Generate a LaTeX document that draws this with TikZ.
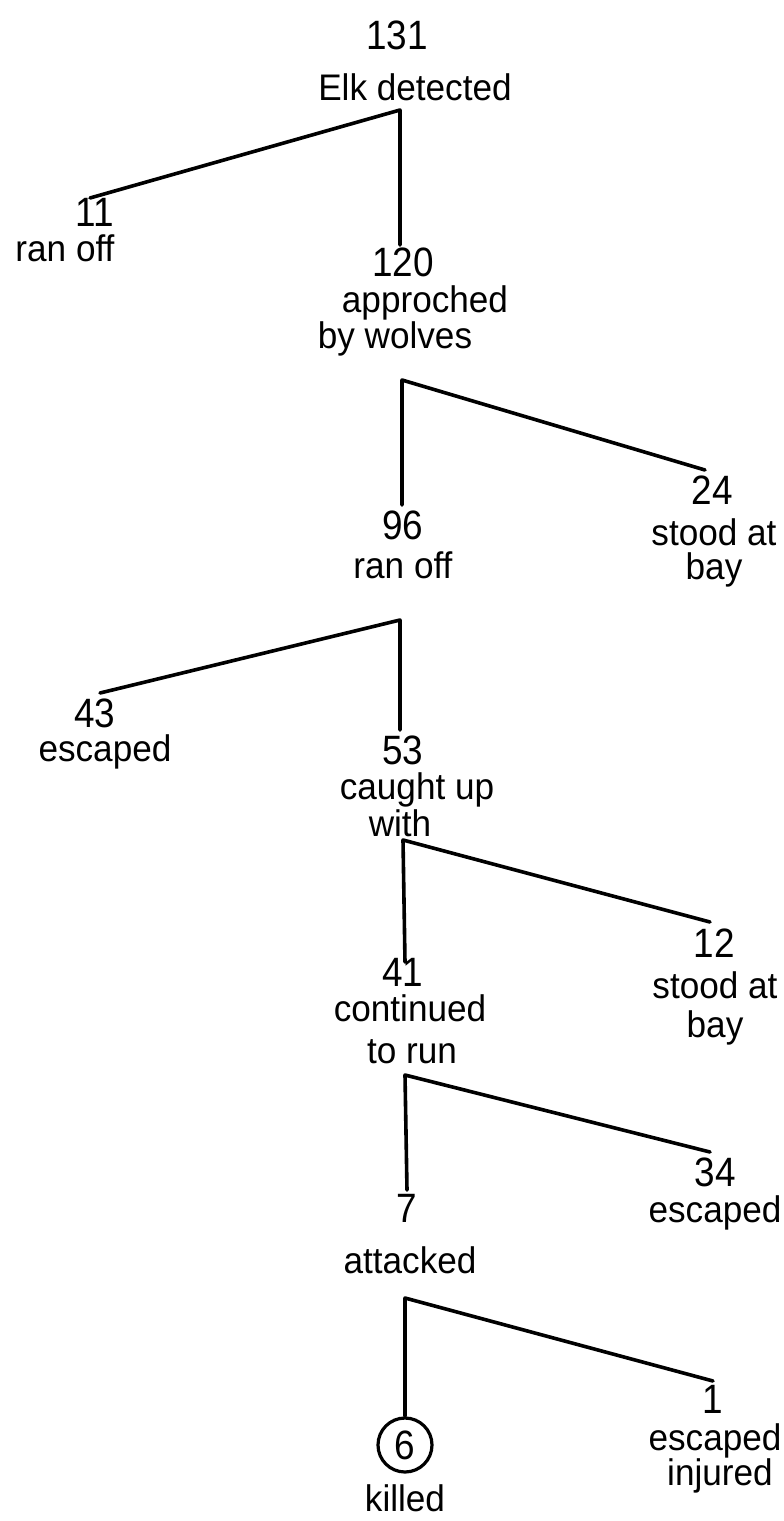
\documentclass[tikz,border=0pt]{standalone}
\usepackage{fontspec}
\setmainfont{Liberation Sans}
\newfontfamily\numfont{Liberation Sans}[FakeStretch=0.9]
\newfontfamily\lblfont{Liberation Sans}[FakeStretch=0.95]
\begin{document}
\begin{tikzpicture}[x=0.5pt,y=-0.5pt]
\tikzset{
 num/.style={font=\numfont\fontsize{20.5}{22}\selectfont, inner sep=0pt},
 lbl/.style={font=\lblfont\fontsize{18.5}{20}\selectfont, inner sep=0pt},
 branch/.style={line width=1.8pt, line cap=round, line join=round},
 killring/.style={draw, line width=1.6pt, circle, minimum size=27pt, inner sep=0pt},
}
\useasboundingbox (0,0) rectangle (783,1521);
% level 0
\node[num] (n131) at (397,35) {131};
\node[lbl] (lElk) at (415,87) {Elk detected};
% level 1
\node[num] (n11) at (95,212) {11};
\node[lbl] (lRan1) at (65,248) {ran off};
\node[num] (n120) at (403,262) {120};
\node[lbl] (lAppr) at (425,303) {approched};
\node[lbl] (lWolv) at (395,339) {by wolves};
% level 2
\node[num] (n96) at (403,525) {96};
\node[lbl] (lRan2) at (403,565) {ran off};
\node[num] (n24) at (712,490) {24};
\node[lbl] (lStood1) at (714,532) {stood at};
\node[lbl] (lBay1) at (714,570) {bay};
% level 3
\node[num] (n43) at (95,713) {43};
\node[lbl] (lEsc1) at (105,752) {escaped};
\node[num] (n53) at (403,750) {53};
\node[lbl] (lCaught) at (417,790) {caught up};
\node[lbl] (lWith) at (400,823) {with};
% level 4
\node[num] (n41) at (403,972) {41};
\node[lbl] (lCont) at (410,1008) {continued};
\node[lbl] (lToRun) at (412,1052) {to run};
\node[num] (n12) at (714,943) {12};
\node[lbl] (lStood2) at (715,985) {stood at};
\node[lbl] (lBay2) at (715,1028) {bay};
% level 5
\node[num] (n7) at (407,1208) {7};
\node[lbl] (lAtt) at (410,1260) {attacked};
\node[num] (n34) at (715,1172) {34};
\node[lbl] (lEsc2) at (715,1213) {escaped};
% level 6
\node[num, killring] (n6) at (405,1445) {6};
\node[lbl] (lKilled) at (405,1498) {killed};
\node[num] (n1) at (713,1399) {1};
\node[lbl] (lEsc3) at (715,1441) {escaped};
\node[lbl] (lInj) at (720,1476) {injured};
% junctions and branch ends
\coordinate (j0) at (400,110);
\coordinate (e11) at (90,198);
\coordinate (e120) at (400,245);
\coordinate (j1) at (402,380);
\coordinate (e96) at (402,505);
\coordinate (e24) at (705,470);
\coordinate (j2) at (400,620);
\coordinate (e43) at (100,693);
\coordinate (e53) at (400,730);
\coordinate (j3) at (403,840);
\coordinate (e41) at (405,962);
\coordinate (e12) at (710,922);
\coordinate (j4) at (405,1075);
\coordinate (e7) at (407,1190);
\coordinate (e34) at (710,1152);
\coordinate (j5) at (405,1298);
\coordinate (e1) at (713,1381);
\draw[branch] (e11) -- (j0) -- (e120);
\draw[branch] (e96) -- (j1) -- (e24);
\draw[branch] (e43) -- (j2) -- (e53);
\draw[branch] (e41) -- (j3) -- (e12);
\draw[branch] (e7) -- (j4) -- (e34);
\draw[branch] (n6.north) -- (j5) -- (e1);
\end{tikzpicture}
\end{document}
